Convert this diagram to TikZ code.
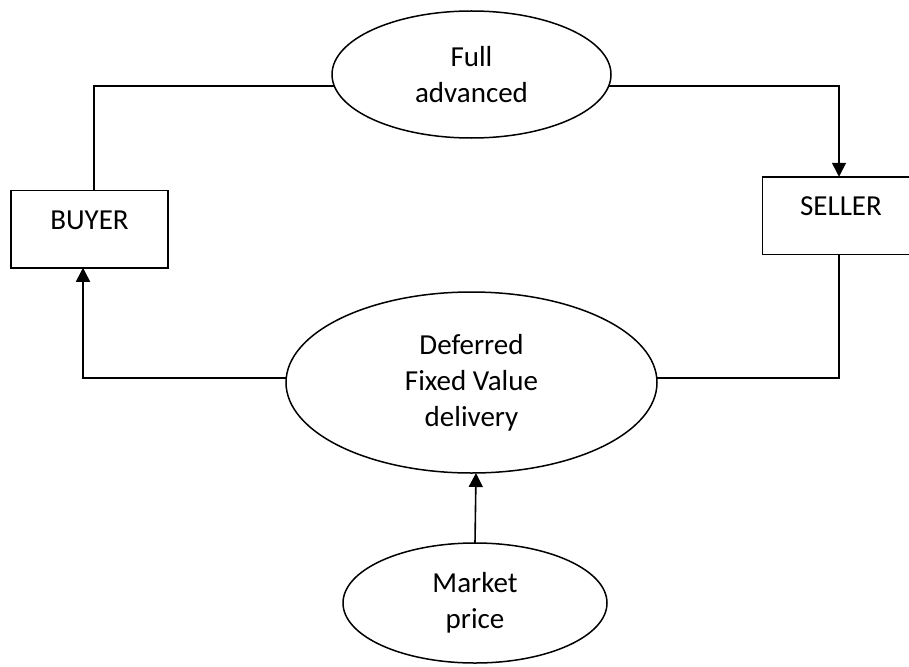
\documentclass[tikz,border=0pt]{standalone}
\usepackage{fontspec}
\setmainfont{Carlito}
\usetikzlibrary{shapes.geometric,arrows.meta}
\begin{document}
\begin{tikzpicture}[x=1pt,y=-1pt,
  every node/.style={font=\fontsize{29}{36}\selectfont, line width=1.5pt, outer sep=0pt},
  oval/.style={ellipse, draw, inner sep=0pt, align=center},
  party/.style={rectangle, draw, inner xsep=0pt, inner ysep=0pt,
    minimum width=157pt, text height=39pt, text depth=38.5pt},
  conn/.style={line width=1.6pt},
  arr/.style={conn, -{Triangle[width=14pt,length=14pt]}}]
\useasboundingbox (0,0) rectangle (909,666);
\begin{scope}
\clip (0,0) rectangle (909,666);

% parties
\node[party] (buyer) at (89.5,229) {BUYER};
\node[party] (seller) at (841,215.5) {SELLER};

% contract terms
\node[oval, minimum width=279pt, minimum height=127pt] (full) at (471.5,74.5) {Full\\advanced};
\node[oval, minimum width=371pt, minimum height=181pt] (mid) at (471.5,382.5) {Deferred\\Fixed Value\\delivery};
\node[oval, minimum width=264pt, minimum height=120pt] (market) at (475,603) {Market\\price};

% flows
\draw[conn] ([xshift=4.5pt]buyer.north) |- ([xshift=2.3pt,yshift=-11.5pt]full.west);
\draw[arr] ([xshift=-2.3pt,yshift=-11.5pt]full.east) -| ([xshift=-2pt]seller.north);
\draw[conn] ([xshift=-2pt]seller.south) |- ([yshift=4.5pt]mid.east);
\draw[arr] ([yshift=4.5pt]mid.west) -| ([xshift=-6.5pt]buyer.south);
\draw[arr] (market.north) -- ([xshift=4.5pt]mid.south);
\end{scope}
\end{tikzpicture}
\end{document}
